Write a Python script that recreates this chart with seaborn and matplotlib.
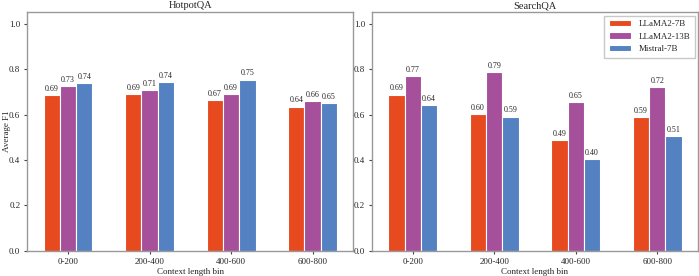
import matplotlib
matplotlib.use("Agg")
import matplotlib.pyplot as plt
import seaborn as sns
import pandas as pd

bins = ["0-200", "200-400", "400-600", "600-800"]
models = ["LLaMA2-7B", "LLaMA2-13B", "Mistral-7B"]
hotpot_7b = [0.686, 0.690, 0.665, 0.635]
hotpot_13b = [0.727, 0.707, 0.690, 0.658]
hotpot_mistral = [0.740, 0.744, 0.754, 0.652]
search_7b = [0.688, 0.603, 0.489, 0.587]
search_13b = [0.768, 0.788, 0.653, 0.722]
search_mistral = [0.643, 0.591, 0.403, 0.507]
colors = ["#E64A1E", "#A64F9A", "#5381C2"]

def make_df(a, b, c):
    rows = []
    for m, vals in zip(models, [a, b, c]):
        for bn, v in zip(bins, vals):
            rows.append({"bin": bn, "model": m, "f1": v})
    return pd.DataFrame(rows)

sns.set_style("ticks")
plt.rcParams["font.family"] = ["Liberation Serif", "DejaVu Serif"]
plt.rcParams["font.size"] = 6.5

fig, axes = plt.subplots(1, 2, figsize=(6.99, 2.76), dpi=100)
datasets = [("HotpotQA", make_df(hotpot_7b, hotpot_13b, hotpot_mistral)),
            ("SearchQA", make_df(search_7b, search_13b, search_mistral))]

for i, (ax, (title, df)) in enumerate(zip(axes, datasets)):
    sns.barplot(data=df, x="bin", y="f1", hue="model", order=bins,
                hue_order=models, palette=colors, saturation=1, width=0.6, gap=0,
                edgecolor="white", linewidth=0.8, ax=ax, legend=(i == 1))
    for cont in ax.containers:
        ax.bar_label(cont, fmt="%.2f", padding=1.5, fontsize=5.8)
    ax.set_ylim(0, 1.05)
    ax.set_xlim(-0.5, 3.5)
    ax.set_yticks([0, 0.2, 0.4, 0.6, 0.8, 1.0])
    ax.set_title(title, fontsize=7.5, pad=3)
    ax.set_xlabel("Context length bin", fontsize=6.5, labelpad=2)
    ax.set_ylabel("Average F1" if i == 0 else "", fontsize=6.5)
    if i == 0:
        ax.yaxis.set_label_coords(-0.051, 0.5)
    ax.tick_params(labelsize=6.5, length=2.5, width=0.8, pad=2.5, color="#444444")
    for s in ax.spines.values():
        s.set_color("#999999")
        s.set_linewidth(1.0)

leg = axes[1].legend(loc="upper right", fontsize=6.5, frameon=True, fancybox=False,
                     edgecolor="#bbbbbb", handlelength=2.5, handletextpad=0.8,
                     borderpad=0.5, labelspacing=0.45, borderaxespad=0.35)

fig.subplots_adjust(left=0.039, right=0.9986, bottom=0.092, top=0.955, wspace=0.057)
fig.savefig("out.png", dpi=100)
